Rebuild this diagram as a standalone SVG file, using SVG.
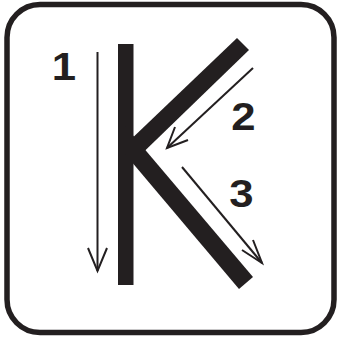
<svg xmlns="http://www.w3.org/2000/svg" width="339" height="341" viewBox="0 0 339 341">
<defs>
<style>
.frame{fill:#fff;stroke:#231f20;stroke-width:5.5}
.k{fill:#231f20}
.arr{fill:none;stroke:#231f20;stroke-width:2;stroke-linecap:butt;stroke-linejoin:miter}
.num{font-family:"Liberation Sans",Arial,sans-serif;font-weight:bold;font-size:38px;fill:#231f20;text-anchor:middle}
</style>
</defs>
<rect width="339" height="341" fill="#fff"/>
<g id="frame"><rect class="frame" x="7" y="4.5" width="327" height="328" rx="33" ry="33"/></g>
<g id="letter-k">
<rect class="k" x="118" y="44" width="15.5" height="241"/>
<polygon class="k" points="237,38 249,50 125,170 125,145"/>
<polygon class="k" points="253,277 239,289 125,154 125,126"/>
</g>
<g id="connectors">
<g id="arrow1"><line class="arr" x1="97.5" y1="52" x2="97.5" y2="271"/><polyline class="arr" points="88,248 97.5,271 107,248"/></g>
<g id="arrow2"><line class="arr" x1="253" y1="68" x2="167" y2="148"/><polyline class="arr" points="175,127 167,148 188,140"/></g>
<g id="arrow3"><line class="arr" x1="182" y1="167" x2="262" y2="263"/><polyline class="arr" points="242,250 262,263 253,240"/></g>
</g>
<g id="labels">
<text class="num" transform="translate(64,80) scale(1.15,1)">1</text>
<text class="num" transform="translate(243.5,130) scale(1.15,1)">2</text>
<text class="num" transform="translate(241.5,207) scale(1.15,1)">3</text>
</g>
</svg>
